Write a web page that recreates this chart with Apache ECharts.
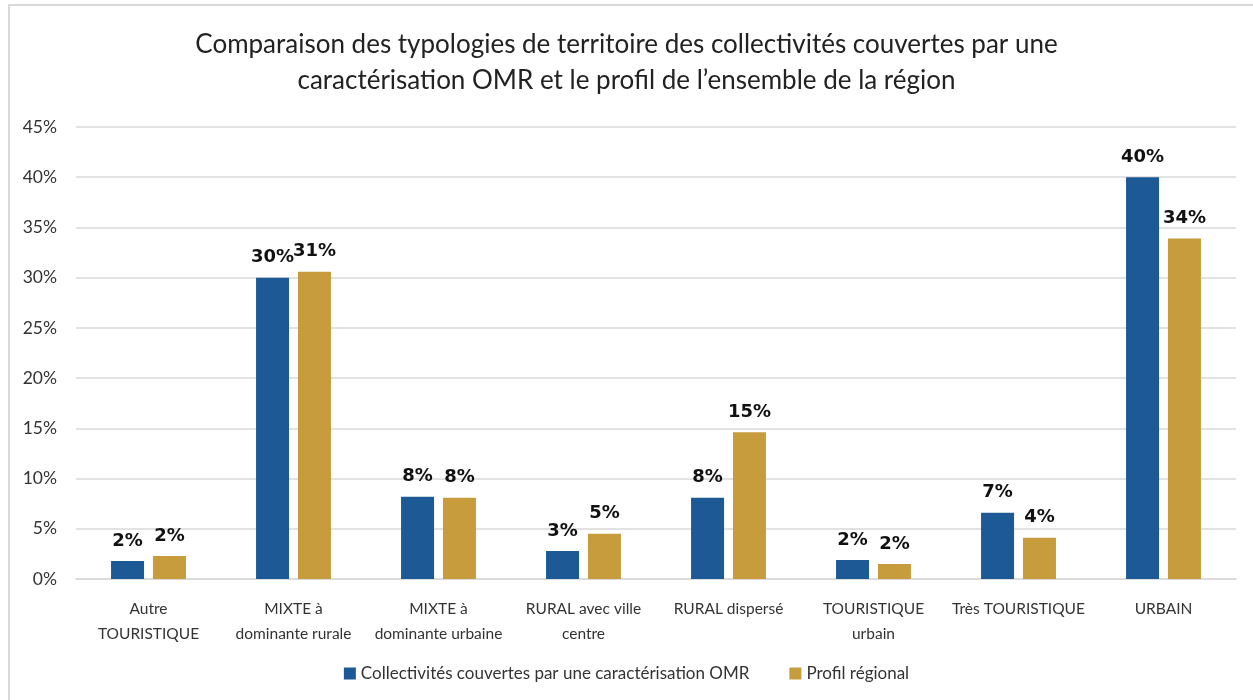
<!DOCTYPE html>
<html>
<head>
<meta charset="utf-8">
<script src="https://cdn.jsdelivr.net/npm/echarts@6/dist/echarts.min.js"></script>
<style>
  html, body { margin: 0; padding: 0; background: #fff; }
  #frame { position: absolute; left: 8px; top: 4px; width: 1260px; height: 710px;
           border-top: 2px solid #d9d9d9; border-left: 2px solid #d9d9d9; }
  #myChart { position: absolute; left: 0; top: 0; width: 1253px; height: 700px; }
</style>
</head>
<body>
<div id="frame"></div>
<div id="myChart"></div>
<script>
// catégories (axe X), avec retour à la ligne comme dans l'original
const categories = [
  'Autre\nTOURISTIQUE',
  'MIXTE à\ndominante rurale',
  'MIXTE à\ndominante urbaine',
  'RURAL avec ville\ncentre',
  'RURAL dispersé',
  'TOURISTIQUE\nurbain',
  'Très TOURISTIQUE',
  'URBAIN'
];
// valeurs en %
const collectivitesOMR = [1.8, 30.0, 8.2, 2.8, 8.1, 1.9, 6.6, 40.0];
const profilRegional = [2.3, 30.6, 8.1, 4.5, 14.6, 1.5, 4.1, 33.9];
const seriesNames = ['Collectivités couvertes par une caractérisation OMR', 'Profil régional'];

const font = 'Lato, "Noto Sans", sans-serif';

const labelStyle = {
  show: true,
  position: 'top',
  distance: 11,
  color: '#111',
  fontWeight: 'bold',
  fontSize: 18,
  fontFamily: '"DejaVu Sans", sans-serif',
  formatter: p => Math.round(p.value) + '%'
};

const option = {
  animation: false,
  title: {
    text: 'Comparaison des typologies de territoire des collectivités couvertes par une\ncaractérisation OMR et le profil de l\u2019ensemble de la région',
    left: 'center',
    top: 22,
    textStyle: {
      fontFamily: font,
      fontWeight: 'normal',
      fontSize: 26,
      lineHeight: 36,
      color: '#222'
    }
  },
  legend: {
    data: seriesNames,
    bottom: 13,
    left: 'center',
    icon: 'rect',
    itemWidth: 12,
    itemHeight: 12,
    itemGap: 40,
    textStyle: { fontFamily: font, fontSize: 17, color: '#333' }
  },
  grid: { left: 76, right: 17, top: 127, bottom: 121 },
  xAxis: {
    type: 'category',
    data: categories,
    axisLine: { lineStyle: { color: '#d9d9d9', width: 1.5 } },
    axisTick: { show: false },
    axisLabel: {
      interval: 0,
      margin: 17,
      fontFamily: font,
      fontSize: 15.5,
      lineHeight: 25,
      color: '#333'
    }
  },
  yAxis: {
    type: 'value',
    min: 0,
    max: 45,
    interval: 5,
    axisLine: { show: false },
    axisTick: { show: false },
    splitLine: { lineStyle: { color: '#d9d9d9', width: 1.5 } },
    axisLabel: {
      formatter: '{value}%',
      margin: 19,
      fontFamily: font,
      fontSize: 17.5,
      color: '#333'
    }
  },
  series: [
    {
      name: seriesNames[0],
      type: 'bar',
      data: collectivitesOMR,
      barWidth: 33,
      barGap: '27%',
      itemStyle: { color: '#1d5994' },
      label: labelStyle
    },
    {
      name: seriesNames[1],
      type: 'bar',
      data: profilRegional,
      barWidth: 33,
      itemStyle: { color: '#c69c3c' },
      label: labelStyle
    }
  ]
};

const chart = echarts.init(document.getElementById('myChart'));
chart.setOption(option);
</script>
</body>
</html>
